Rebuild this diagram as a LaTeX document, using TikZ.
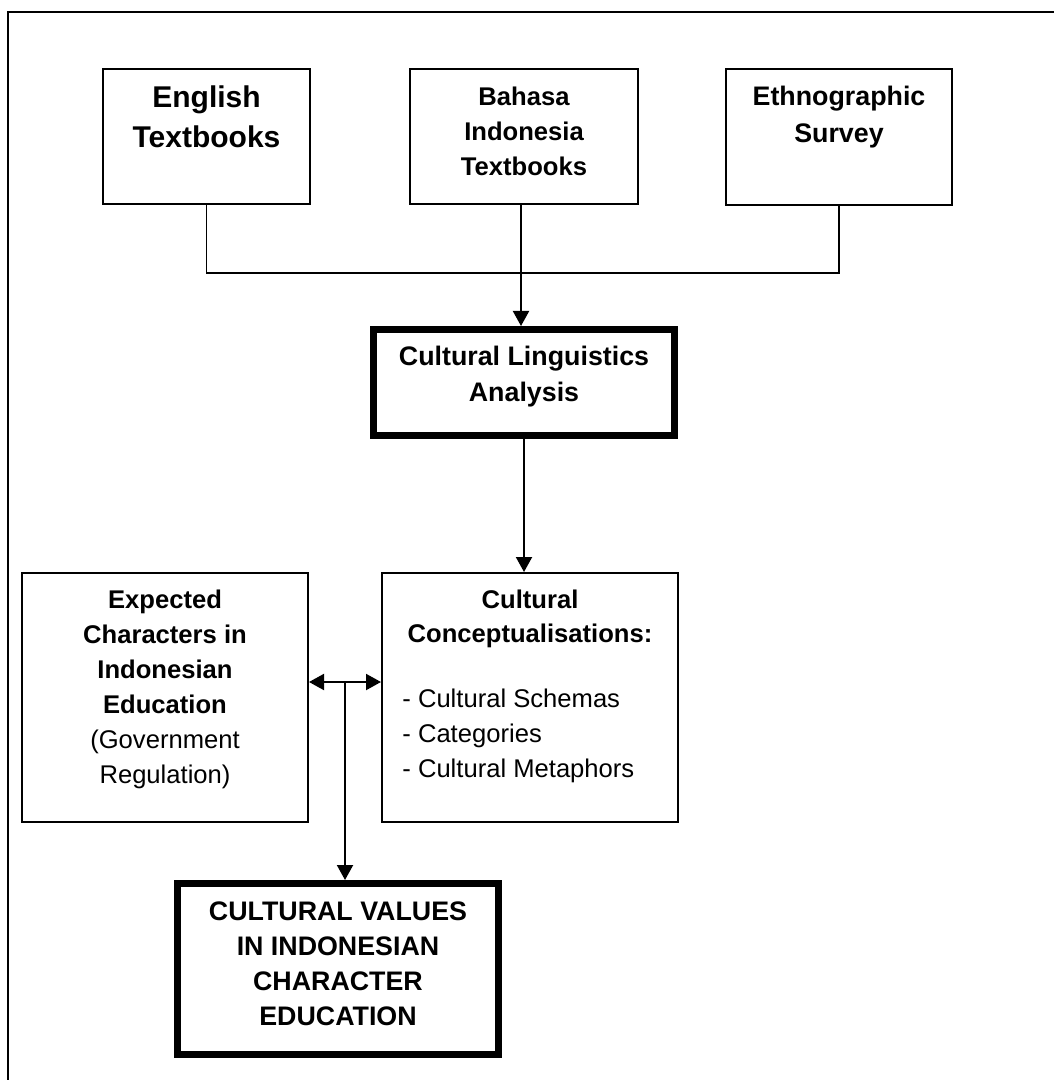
\documentclass[tikz,border=0pt]{standalone}
\usepackage{fontspec}
\setmainfont{Liberation Sans}
\usetikzlibrary{positioning,calc,arrows.meta}

\tikzset{
  box/.style={draw=black, line width=1pt, inner sep=0pt},
  keybox/.style={draw=black, line width=3.5pt, inner sep=0pt},
  txt/.style={anchor=north, align=center, inner sep=0pt},
  arr/.style={line width=1pt, -{Triangle[length=7.5pt,width=8pt]}},
  arrboth/.style={line width=1pt, {Triangle[length=7.5pt,width=8pt]}-{Triangle[length=7.5pt,width=8pt]}},
  link/.style={line width=0.8pt},
}

\begin{document}
\begin{tikzpicture}[x=0.5pt,y=-0.5pt]
  \useasboundingbox (0,0) rectangle (1054,1080);
  % frame, cut off at the right and bottom
  \draw[line width=1pt] (8,1080) -- (8,12) -- (1054,12);

  % data sources
  \node[box, minimum width=103.5pt, minimum height=67.5pt] (eng) at (206.5,136.5) {};
  \node[box, minimum width=114pt, minimum height=67.5pt] (bah) at (524,136.5) {};
  \node[box, minimum width=113pt, minimum height=68pt] (eth) at (839,137) {};
  \node[txt, font=\fontsize{15}{20}\selectfont\bfseries] (engtxt) at (206.5,85) {English\\Textbooks};
  \node[txt, font=\fontsize{12.8}{17.5}\selectfont\bfseries] (bahtxt) at (524,87) {Bahasa\\Indonesia\\Textbooks};
  \node[txt, font=\fontsize{13.4}{18.5}\selectfont\bfseries] (ethtxt) at (839,86) {Ethnographic\\Survey};

  % analysis
  \node[keybox, minimum width=150.5pt, minimum height=53pt] (cla) at (524,382.5) {};
  \node[txt, font=\fontsize{13.4}{18}\selectfont\bfseries] (clatxt) at (524,346) {Cultural Linguistics\\Analysis};

  % findings
  \node[box, minimum width=143pt, minimum height=124.5pt] (exp) at (165,697.5) {};
  \node[txt, font=\fontsize{12.8}{17.5}\selectfont] (exptxt) at (165,590)
    {\textbf{Expected}\\\textbf{Characters in}\\\textbf{Indonesian}\\\textbf{Education}\\(Government\\Regulation)};
  \node[box, minimum width=148pt, minimum height=124.5pt] (cc) at (530,697.5) {};
  \node[txt, font=\fontsize{12.8}{17}\selectfont\bfseries] (cctxt) at (530,590) {Cultural\\Conceptualisations:};
  \node[txt, anchor=north west, align=left, font=\fontsize{12.8}{17.5}\selectfont] (cclist) at (402,689)
    {- Cultural Schemas\\- Categories\\- Cultural Metaphors};

  % outcome
  \node[keybox, minimum width=160.5pt, minimum height=85.5pt] (cv) at (338,969) {};
  \node[txt, font=\fontsize{13.4}{17.5}\selectfont\bfseries] (cvtxt) at (338,901)
    {CULTURAL VALUES\\IN INDONESIAN\\CHARACTER\\EDUCATION};

  % connectors
  \coordinate (bus) at (521,273);
  \coordinate (mid) at (345,682);
  \draw[link] (eng.south) |- (bus) -| (eth.south);
  \draw[arr] (bah.south -| bus) -- (bus |- cla.north);
  \draw[arr] (cla.south) -- (cla.south |- cc.north);
  \draw[arrboth] (exp.east |- mid) -- (cc.west |- mid);
  \draw[arr] (mid) -- (mid |- cv.north);
\end{tikzpicture}
\end{document}
